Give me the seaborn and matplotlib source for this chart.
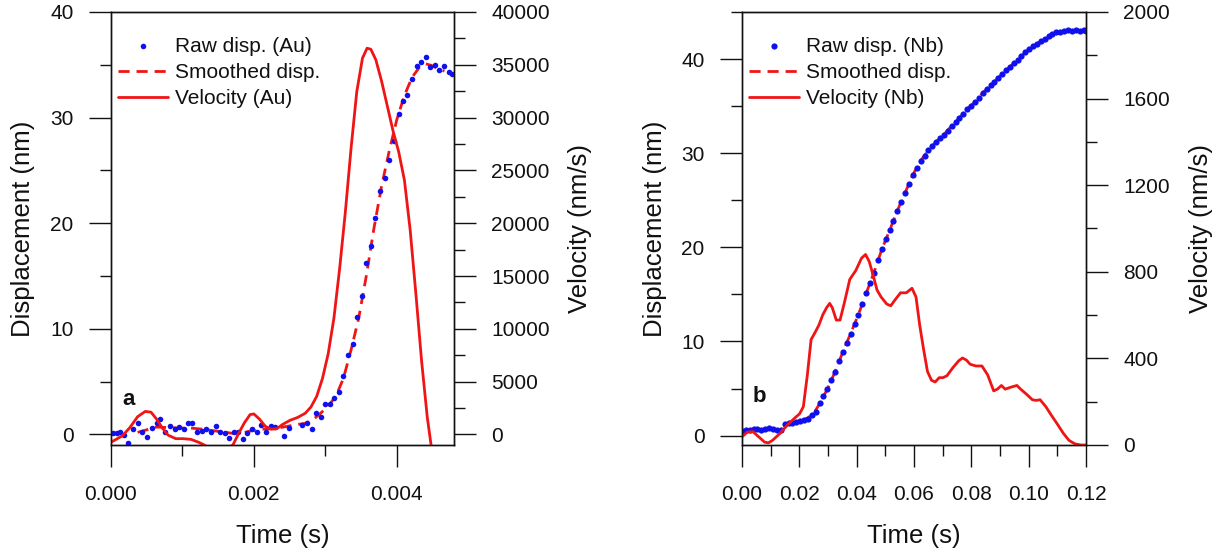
import numpy as np
import matplotlib
matplotlib.use('Agg')
import matplotlib.pyplot as plt
import seaborn as sns
from matplotlib.ticker import MultipleLocator, FormatStrFormatter

sns.set_style('ticks')
plt.rcParams['font.family'] = ['Liberation Sans', 'DejaVu Sans']

# ---------------- (a) Au ----------------
au_raw_t_ms = [0.027, 0.080, 0.133, 0.187, 0.240, 0.309, 0.384, 0.437, 0.507, 0.576,
               0.640, 0.693, 0.757, 0.832, 0.891, 0.949, 1.019, 1.077, 1.141, 1.205,
               1.269, 1.333, 1.403, 1.467, 1.531, 1.595, 1.653, 1.723, 1.781, 1.845,
               1.909, 1.973, 2.037, 2.101, 2.171, 2.235, 2.299, 2.427, 2.491, 2.667,
               2.741, 2.811, 2.869, 2.933, 2.997, 3.061, 3.125, 3.189, 3.253, 3.323,
               3.381, 3.445, 3.509, 3.573, 3.637, 3.701, 3.765, 3.829, 3.893, 3.957,
               4.027, 4.091, 4.149, 4.213, 4.277, 4.341, 4.405, 4.469, 4.533, 4.597,
               4.661, 4.725, 4.773]
au_raw_disp = [0.10, 0.10, 0.20, -0.07, -0.80, 0.54, 1.07, 0.20, -0.27, 0.60,
               1.11, 1.44, 0.27, 0.77, 0.50, 0.70, 0.50, 1.04, 1.04, 0.27,
               0.34, 0.50, 0.20, 0.84, 0.27, 0.17, -0.34, 0.20, 0.20, -0.47,
               0.10, 0.50, 0.20, 0.94, 0.27, 0.77, 0.70, -0.13, 0.60, 0.94,
               1.04, 0.54, 2.04, 1.61, 2.85, 2.85, 3.45, 4.06, 5.56, 7.54,
               8.55, 11.13, 13.07, 16.26, 17.80, 20.45, 23.06, 24.30, 26.01, 27.76,
               30.37, 31.61, 32.18, 33.66, 34.90, 35.30, 35.73, 34.80, 34.97, 34.53,
               34.86, 34.29, 34.13]

au_smooth_t_ms = [0.373, 0.507, 0.640, 0.800, 0.960, 1.120, 1.280, 1.440, 1.600, 1.707,
                  1.840, 1.973, 2.133, 2.293, 2.453, 2.613, 2.720, 2.827, 2.933, 3.040,
                  3.147, 3.253, 3.360, 3.467, 3.573, 3.680, 3.787, 3.893, 4.000, 4.107,
                  4.213, 4.320, 4.400, 4.480, 4.587, 4.667]
au_smooth_disp = [0.2, 0.45, 0.7, 0.65, 0.6, 0.6, 0.5, 0.35, 0.2, 0.1,
                  0.15, 0.35, 0.5, 0.55, 0.75, 0.95, 1.05, 1.4, 2.0, 2.7,
                  3.6, 5.3, 8.0, 11.0, 15.0, 19.5, 23.5, 26.8, 29.8, 32.1,
                  33.8, 34.8, 35.1, 34.95, 34.6, 34.4]

au_vel_t_ms = [0.0, 0.160, 0.267, 0.373, 0.480, 0.560, 0.640, 0.720, 0.800, 0.907,
               1.013, 1.120, 1.227, 1.307, 1.500, 1.707, 1.787, 1.867, 1.947, 2.000,
               2.080, 2.160, 2.240, 2.320, 2.400, 2.507, 2.613, 2.720, 2.800, 2.880,
               2.960, 3.040, 3.120, 3.200, 3.280, 3.360, 3.440, 3.520, 3.584, 3.637,
               3.707, 3.787, 3.867, 3.947, 4.027, 4.107, 4.187, 4.267, 4.347, 4.427,
               4.480, 4.550]
au_vel = [-740, -130, 670, 1680, 2180, 2110, 1440, 600, -70, -400,
          -400, -470, -740, -1000, -1800, -1000, 100, 1100, 1880, 1940,
          1440, 770, 500, 540, 940, 1340, 1610, 2010, 2610, 3620,
          5300, 7640, 11000, 15690, 21050, 27090, 32450, 35630, 36570, 36470,
          35470, 33460, 31110, 28760, 26750, 24070, 19380, 13340, 6970, 1610,
          -1000, -3000]

# ---------------- (b) Nb ----------------
nb_raw_t = [0.0000, 0.0014, 0.0027, 0.0041, 0.0054, 0.0068, 0.0081, 0.0095, 0.0108, 0.0122,
            0.0135, 0.0149, 0.0163, 0.0176, 0.0190, 0.0203, 0.0217, 0.0230, 0.0244, 0.0257,
            0.0271, 0.0284, 0.0298, 0.0312, 0.0325, 0.0339, 0.0352, 0.0366, 0.0379, 0.0393,
            0.0406, 0.0420, 0.0433, 0.0447, 0.0460, 0.0474, 0.0488, 0.0501, 0.0515, 0.0528,
            0.0542, 0.0555, 0.0569, 0.0582, 0.0596, 0.0609, 0.0623, 0.0637, 0.0650, 0.0664,
            0.0677, 0.0691, 0.0704, 0.0718, 0.0731, 0.0745, 0.0758, 0.0772, 0.0786, 0.0799,
            0.0813, 0.0826, 0.0840, 0.0853, 0.0867, 0.0880, 0.0894, 0.0907, 0.0921, 0.0934,
            0.0948, 0.0962, 0.0975, 0.0989, 0.1002, 0.1016, 0.1029, 0.1043, 0.1056, 0.1070,
            0.1083, 0.1097, 0.1111, 0.1124, 0.1138, 0.1151, 0.1165, 0.1178, 0.1192, 0.1200]
nb_raw_disp = [0.45, 0.55, 0.64, 0.75, 0.71, 0.60, 0.71, 0.80, 0.70, 0.64,
               0.64, 1.20, 1.30, 1.39, 1.45, 1.58, 1.65, 1.76, 2.14, 2.50,
               3.45, 4.20, 4.95, 5.90, 6.80, 7.95, 8.90, 9.80, 10.80, 11.90,
               12.80, 14.00, 15.10, 16.20, 17.30, 18.65, 19.80, 20.90, 21.80, 22.80,
               23.90, 24.80, 25.80, 26.70, 27.70, 28.40, 29.20, 29.70, 30.30, 30.80,
               31.20, 31.60, 31.97, 32.40, 32.90, 33.30, 33.70, 34.20, 34.70, 35.05,
               35.46, 35.90, 36.40, 36.80, 37.20, 37.60, 38.00, 38.40, 38.80, 39.20,
               39.55, 39.90, 40.30, 40.70, 41.05, 41.35, 41.65, 41.90, 42.15, 42.40,
               42.66, 42.85, 42.90, 43.00, 43.04, 42.95, 43.04, 43.00, 43.04, 43.00]

nb_smooth_t = [0.0203, 0.0217, 0.0230, 0.0244, 0.0257, 0.0271, 0.0298, 0.0325, 0.0352, 0.0379,
               0.0406, 0.0433, 0.0460, 0.0488, 0.0515, 0.0542, 0.0569, 0.0596, 0.0623, 0.0650,
               0.0677, 0.0704, 0.0731, 0.0758, 0.0786, 0.0813, 0.0840, 0.0867, 0.0894, 0.0921,
               0.0948, 0.0975, 0.1002, 0.1029, 0.1056, 0.1083, 0.1111, 0.1138, 0.1165, 0.1200]
nb_smooth_disp = [1.55, 1.70, 1.90, 2.20, 2.70, 3.40, 4.95, 6.80, 8.90, 10.85,
                  12.85, 15.10, 17.30, 19.80, 21.80, 23.90, 25.80, 27.70, 29.20, 30.30,
                  31.20, 31.97, 32.90, 33.70, 34.70, 35.46, 36.40, 37.20, 38.00, 38.80,
                  39.55, 40.30, 41.05, 41.65, 42.15, 42.66, 42.90, 43.00, 43.00, 43.00]

nb_vel_t = [0.0000, 0.0018, 0.0038, 0.0058, 0.0079, 0.0092, 0.0106, 0.0133, 0.0160, 0.0187,
            0.0201, 0.0214, 0.0228, 0.0241, 0.0255, 0.0268, 0.0282, 0.0295, 0.0306, 0.0315,
            0.0329, 0.0342, 0.0356, 0.0376, 0.0397, 0.0417, 0.0431, 0.0444, 0.0458, 0.0471,
            0.0485, 0.0505, 0.0519, 0.0532, 0.0553, 0.0573, 0.0593, 0.0607, 0.0620, 0.0634,
            0.0647, 0.0661, 0.0674, 0.0688, 0.0701, 0.0715, 0.0735, 0.0756, 0.0769, 0.0783,
            0.0796, 0.0816, 0.0837, 0.0857, 0.0878, 0.0891, 0.0905, 0.0918, 0.0938, 0.0959,
            0.0972, 0.0993, 0.1013, 0.1026, 0.1040, 0.1060, 0.1080, 0.1101, 0.1121, 0.1141,
            0.1162, 0.1182, 0.1200]
nb_vel = [38, 59, 62, 38, 13, 10, 21, 54, 95, 128,
          144, 177, 324, 487, 520, 553, 602, 634, 654, 634,
          577, 577, 651, 765, 806, 863, 880, 847, 782, 716,
          684, 651, 643, 667, 703, 703, 724, 684, 553, 438,
          340, 299, 291, 311, 311, 320, 356, 389, 402, 392,
          373, 365, 365, 324, 250, 258, 275, 258, 267, 275,
          258, 234, 209, 206, 209, 177, 136, 95, 54, 21,
          5, 0, 0]

RED = '#f01414'
BLUE = '#1010ee'
INK = '#111111'

fig = plt.figure(figsize=(12.18, 5.55), dpi=100)


def style_axes(ax, ax2):
    for a in (ax, ax2):
        for sp in a.spines.values():
            sp.set_visible(True)
            sp.set_linewidth(1.0)
            sp.set_color(INK)
    ax.tick_params(axis='both', which='major', direction='out', length=16, width=1.0,
                   pad=11, labelsize=15, colors=INK, top=False, right=False)
    ax.tick_params(axis='x', which='major', pad=12.5)
    ax.tick_params(axis='both', which='minor', direction='out', length=8, width=1.0,
                   colors=INK, top=False, right=False)
    ax2.tick_params(axis='y', which='major', direction='out', length=16, width=1.0,
                    pad=11, labelsize=15, colors=INK)
    ax2.tick_params(axis='y', which='minor', direction='out', length=8, width=1.0,
                    colors=INK)


def draw_panel(rect, raw_t, raw_d, sm_t, sm_d, vel_t, vel, metal, ms):
    ax = fig.add_axes(rect)
    sns.lineplot(x=sm_t, y=sm_d, ax=ax, color=RED, linewidth=2.0,
                 linestyle=(0, (4, 2.5)), estimator=None, sort=False)
    sns.scatterplot(x=raw_t, y=raw_d, ax=ax, color=BLUE, s=ms, linewidth=0, zorder=3)
    ax2 = ax.twinx()
    sns.lineplot(x=vel_t, y=vel, ax=ax2, color=RED, linewidth=2.0,
                 estimator=None, sort=False)
    style_axes(ax, ax2)
    handles = [ax.collections[0], ax.lines[0], ax2.lines[0]]
    labels = ['Raw disp. (%s)' % metal, 'Smoothed disp.', 'Velocity (%s)' % metal]
    ax2.legend(handles, labels, loc='upper left', bbox_to_anchor=(0.0, 0.96),
               borderaxespad=0, borderpad=0.35, frameon=False, fontsize=15,
               handlelength=2.4, handletextpad=0.3, labelspacing=0.35,
               markerscale=1.0, labelcolor=INK)
    ax.set_xlabel('Time (s)', fontsize=18.5, color=INK)
    ax.set_ylabel('Displacement (nm)', fontsize=18.5, color=INK)
    ax2.set_ylabel('Velocity (nm/s)', fontsize=18.5, color=INK)
    ax.xaxis.set_label_coords(0.5, -0.182)
    return ax, ax2


# panel a
axa, axa2 = draw_panel([0.0911, 0.1982, 0.2816, 0.7802],
                       np.array(au_raw_t_ms) * 1e-3, au_raw_disp,
                       np.array(au_smooth_t_ms) * 1e-3, au_smooth_disp,
                       np.array(au_vel_t_ms) * 1e-3, au_vel, 'Au', 16)
axa.set_xlim(0, 0.0048)
axa.set_ylim(-1, 40)
axa2.set_ylim(-1000, 40000)
axa.xaxis.set_major_locator(MultipleLocator(0.002))
axa.xaxis.set_minor_locator(MultipleLocator(0.001))
axa.xaxis.set_major_formatter(FormatStrFormatter('%.3f'))
axa.yaxis.set_major_locator(MultipleLocator(10))
axa.yaxis.set_minor_locator(MultipleLocator(5))
axa2.yaxis.set_major_locator(MultipleLocator(5000))
axa2.yaxis.set_minor_locator(MultipleLocator(2500))
axa.yaxis.set_label_coords(-0.222, 0.5)
axa2.yaxis.set_label_coords(1.332, 0.5)
axa.text(0.05, 0.106, 'a', transform=axa.transAxes, fontsize=16, fontweight='bold',
         ha='center', va='center', color=INK)

# panel b
axb, axb2 = draw_panel([0.6092, 0.1982, 0.2824, 0.7802],
                       nb_raw_t, nb_raw_disp, nb_smooth_t, nb_smooth_disp,
                       nb_vel_t, nb_vel, 'Nb', 20)
axb.set_xlim(0, 0.12)
axb.set_ylim(-1, 45)
axb2.set_ylim(0, 2000)
axb.xaxis.set_major_locator(MultipleLocator(0.02))
axb.xaxis.set_minor_locator(MultipleLocator(0.01))
axb.xaxis.set_major_formatter(FormatStrFormatter('%.2f'))
axb.yaxis.set_major_locator(MultipleLocator(10))
axb.yaxis.set_minor_locator(MultipleLocator(5))
axb2.yaxis.set_major_locator(MultipleLocator(400))
axb2.yaxis.set_minor_locator(MultipleLocator(200))
axb.yaxis.set_label_coords(-0.218, 0.5)
axb2.yaxis.set_label_coords(1.300, 0.5)
axb.text(0.049, 0.113, 'b', transform=axb.transAxes, fontsize=16, fontweight='bold',
         ha='center', va='center', color=INK)

fig.savefig('out.png', dpi=100)
